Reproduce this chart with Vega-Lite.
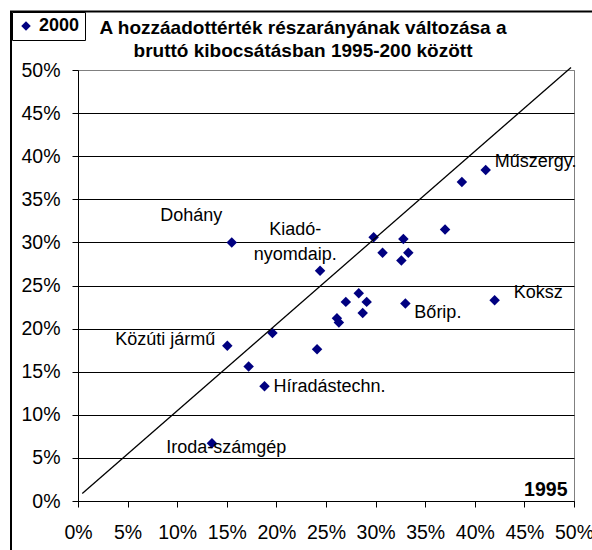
{
  "$schema": "https://vega.github.io/schema/vega-lite/v6.json",
  "width": 496,
  "height": 431,
  "autosize": "none",
  "padding": {"left": 78, "top": 70, "right": 18, "bottom": 49},
  "background": "white",
  "config": {
    "font": "Liberation Sans",
    "view": {"stroke": "#808080", "strokeWidth": 1}
  },
  "title": {
    "text": ["A hozzáadottérték részarányának változása a", "bruttó kibocsátásban 1995-200 között"],
    "font": "Liberation Sans",
    "fontSize": 19,
    "fontWeight": "bold",
    "color": "black",
    "anchor": "middle",
    "dx": -23,
    "dy": 62,
    "lineHeight": 23,
    "offset": 12
  },
  "data": {
    "values": [
      {"x": 0.155, "y": 0.300, "name": "Dohány"},
      {"x": 0.244, "y": 0.267, "name": "Kiadó-\nnyomdaip."},
      {"x": 0.411, "y": 0.384, "name": "Műszergy."},
      {"x": 0.387, "y": 0.370, "name": ""},
      {"x": 0.370, "y": 0.315, "name": ""},
      {"x": 0.298, "y": 0.306, "name": ""},
      {"x": 0.328, "y": 0.304, "name": ""},
      {"x": 0.307, "y": 0.288, "name": ""},
      {"x": 0.333, "y": 0.288, "name": ""},
      {"x": 0.326, "y": 0.279, "name": ""},
      {"x": 0.283, "y": 0.241, "name": ""},
      {"x": 0.270, "y": 0.231, "name": ""},
      {"x": 0.291, "y": 0.231, "name": ""},
      {"x": 0.330, "y": 0.229, "name": "Bőrip."},
      {"x": 0.420, "y": 0.233, "name": "Koksz"},
      {"x": 0.287, "y": 0.218, "name": ""},
      {"x": 0.261, "y": 0.212, "name": ""},
      {"x": 0.263, "y": 0.207, "name": ""},
      {"x": 0.241, "y": 0.176, "name": ""},
      {"x": 0.1505, "y": 0.180, "name": "Közúti jármű"},
      {"x": 0.196, "y": 0.195, "name": ""},
      {"x": 0.172, "y": 0.156, "name": ""},
      {"x": 0.188, "y": 0.133, "name": "Híradástechn."},
      {"x": 0.135, "y": 0.067, "name": "Iroda-számgép"}
    ]
  },
  "layer": [
    {
      "data": {"values": [{"frame": 1}]},
      "mark": {"type": "rect", "fill": "white", "fillOpacity": 0, "stroke": "black", "strokeWidth": 2, "clip": false},
      "encoding": {"x": {"value": -67}, "y": {"value": -58.5}, "x2": {"value": 700}, "y2": {"value": 700}}
    },
    {
      "mark": {"type": "point", "shape": "diamond", "filled": true, "size": 110, "opacity": 1},
      "encoding": {
        "x": {
          "field": "x", "type": "quantitative",
          "scale": {"domain": [0, 0.5], "nice": false},
          "axis": {
            "format": ".0%",
            "values": [0, 0.05, 0.1, 0.15, 0.2, 0.25, 0.3, 0.35, 0.4, 0.45, 0.5],
            "grid": false,
            "domainColor": "black",
            "tickColor": "black",
            "tickSize": 6,
            "labelFont": "Liberation Sans",
            "labelFontSize": 19.5,
            "labelColor": "black",
            "labelPadding": 16,
            "labelOverlap": false,
            "labelFlush": false,
            "title": "1995",
            "titleFont": "Liberation Sans",
            "titleFontSize": 19.5,
            "titleFontWeight": "bold",
            "titleColor": "black",
            "titleX": 489,
            "titleY": -6,
            "titleAlign": "right",
            "titleBaseline": "alphabetic"
          }
        },
        "y": {
          "field": "y", "type": "quantitative",
          "scale": {"domain": [0, 0.5], "nice": false},
          "axis": {
            "format": ".0%",
            "values": [0, 0.05, 0.1, 0.15, 0.2, 0.25, 0.3, 0.35, 0.4, 0.45, 0.5],
            "grid": true,
            "gridColor": {"condition": {"test": "datum.value >= 0.5", "value": "#808080"}, "value": "black"},
            "gridWidth": 1,
            "domainColor": "black",
            "tickColor": "black",
            "tickSize": 6,
            "labelFont": "Liberation Sans",
            "labelFontSize": 19.5,
            "labelColor": "black",
            "labelPadding": 12,
            "labelOverlap": false,
            "labelFlush": false,
            "title": null
          }
        },
        "color": {
          "datum": "2000",
          "scale": {"range": ["#000080"]},
          "legend": {
            "title": null,
            "orient": "none",
            "legendX": -66,
            "legendY": -58,
            "strokeColor": "black",
            "fillColor": "white",
            "padding": 5,
            "symbolType": "diamond",
            "symbolSize": 90,
            "symbolStrokeWidth": 0,
            "labelFont": "Liberation Sans",
            "labelFontSize": 18,
            "labelFontWeight": "bold",
            "labelColor": "black",
            "labelOffset": 4
          }
        }
      }
    },
    {
      "data": {"values": [{"x": 0.0043, "y": 0.0086, "x2": 0.497, "y2": 0.503}]},
      "mark": {"type": "rule", "color": "black", "strokeWidth": 1.3, "clip": false},
      "encoding": {
        "x": {"field": "x", "type": "quantitative"},
        "y": {"field": "y", "type": "quantitative"},
        "x2": {"field": "x2"},
        "y2": {"field": "y2"}
      }
    },
    {
      "transform": [{"filter": "datum.name == 'Dohány'"}],
      "mark": {"type": "text", "fontSize": 18, "color": "black", "align": "center", "baseline": "middle", "dx": -40.5, "dy": -26.7},
      "encoding": {"x": {"field": "x", "type": "quantitative"}, "y": {"field": "y", "type": "quantitative"}, "text": {"field": "name"}}
    },
    {
      "transform": [{"filter": "indexof(datum.name, 'Kiadó') == 0"}],
      "mark": {"type": "text", "fontSize": 18, "color": "black", "align": "center", "baseline": "middle", "dx": -24.8, "dy": -41, "lineBreak": "\n", "lineHeight": 25},
      "encoding": {"x": {"field": "x", "type": "quantitative"}, "y": {"field": "y", "type": "quantitative"}, "text": {"field": "name"}}
    },
    {
      "transform": [{"filter": "datum.name == 'Műszergy.'"}],
      "mark": {"type": "text", "fontSize": 18, "color": "black", "align": "left", "baseline": "middle", "dx": 9, "dy": -8.2, "clip": false},
      "encoding": {"x": {"field": "x", "type": "quantitative"}, "y": {"field": "y", "type": "quantitative"}, "text": {"field": "name"}}
    },
    {
      "transform": [{"filter": "datum.name == 'Koksz'"}],
      "mark": {"type": "text", "fontSize": 18, "color": "black", "align": "left", "baseline": "middle", "dx": 19, "dy": -6.7},
      "encoding": {"x": {"field": "x", "type": "quantitative"}, "y": {"field": "y", "type": "quantitative"}, "text": {"field": "name"}}
    },
    {
      "transform": [{"filter": "datum.name == 'Bőrip.'"}],
      "mark": {"type": "text", "fontSize": 18, "color": "black", "align": "left", "baseline": "middle", "dx": 9, "dy": 9.4},
      "encoding": {"x": {"field": "x", "type": "quantitative"}, "y": {"field": "y", "type": "quantitative"}, "text": {"field": "name"}}
    },
    {
      "transform": [{"filter": "datum.name == 'Híradástechn.'"}],
      "mark": {"type": "text", "fontSize": 18, "color": "black", "align": "left", "baseline": "middle", "dx": 9, "dy": 1},
      "encoding": {"x": {"field": "x", "type": "quantitative"}, "y": {"field": "y", "type": "quantitative"}, "text": {"field": "name"}}
    },
    {
      "transform": [{"filter": "datum.name == 'Közúti jármű'"}],
      "mark": {"type": "text", "fontSize": 18, "color": "black", "align": "right", "baseline": "middle", "dx": -12, "dy": -5.7},
      "encoding": {"x": {"field": "x", "type": "quantitative"}, "y": {"field": "y", "type": "quantitative"}, "text": {"field": "name"}}
    },
    {
      "transform": [{"filter": "datum.name == 'Iroda-számgép'"}],
      "mark": {"type": "text", "fontSize": 18, "color": "black", "align": "center", "baseline": "middle", "dx": 14.3, "dy": 5},
      "encoding": {"x": {"field": "x", "type": "quantitative"}, "y": {"field": "y", "type": "quantitative"}, "text": {"field": "name"}}
    }
  ]
}
